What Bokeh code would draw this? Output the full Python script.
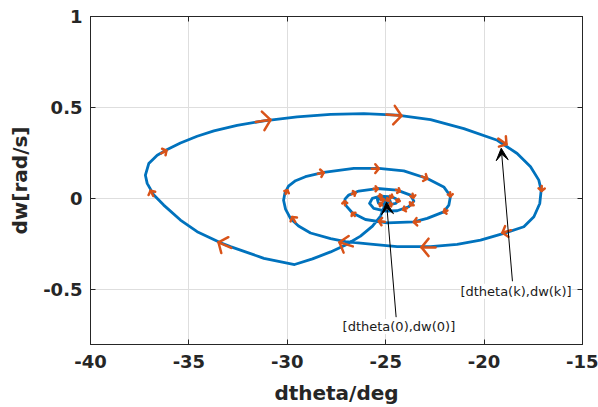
import numpy as np
from bokeh.plotting import figure
from bokeh.core.properties import value
from bokeh.models import (Range1d, FixedTicker, LinearAxis, Arrow, VeeHead,
                          LabelSet, ColumnDataSource)
from bokeh.embed import file_html
from bokeh.resources import INLINE

# ---- phase trajectory (dtheta in deg, dw in rad/s) ----
traj_theta = [
    -24.95, -25.26, -25.67, -26.28, -27.04, -27.80, -28.72, -29.63,
    -31.19, -32.89, -33.39, -34.58, -35.43, -36.28, -36.78, -37.12, -37.21,
    -37.04, -36.61, -36.10, -35.43, -34.58, -33.73, -32.55, -31.19, -29.50,
    -27.80, -26.11, -24.42, -22.72, -21.03, -19.33, -18.32, -17.64, -17.22,
    -17.10, -17.17, -17.47, -17.98, -19.00, -20.18, -21.37, -22.72, -24.42,
    -25.77, -27.04, -27.80, -28.82, -29.43, -29.84, -30.09, -30.19, -30.12,
    -29.94, -29.58, -29.08, -28.15, -26.62, -25.35, -24.08, -22.89, -22.05,
    -21.71, -21.79, -22.05, -22.89, -23.57, -24.92, -26.03, -26.70, -27.04,
    -27.07, -26.88, -26.37, -25.43, -24.42, -23.74, -23.57, -23.83, -24.42,
    -25.01, -25.61, -25.82, -25.68, -25.26, -24.67, -24.33, -24.50, -24.92,
    -25.37, -25.42, -25.16, -24.81, -24.76, -24.96, -25.11, -25.01, -24.95,
]
traj_w = [
    -0.010, -0.095, -0.150, -0.205, -0.254, -0.292, -0.330, -0.361,
    -0.327, -0.263, -0.242, -0.181, -0.117, -0.035, 0.020, 0.084, 0.129,
    0.193, 0.239, 0.270, 0.306, 0.343, 0.372, 0.403, 0.427, 0.449,
    0.463, 0.467, 0.459, 0.434, 0.385, 0.321, 0.248, 0.175, 0.102,
    0.047, -0.026, -0.099, -0.154, -0.190, -0.227, -0.250, -0.263, -0.263,
    -0.249, -0.235, -0.219, -0.188, -0.150, -0.108, -0.057, -0.008, 0.031,
    0.069, 0.099, 0.121, 0.144, 0.166, 0.166, 0.153, 0.111, 0.065,
    0.014, -0.035, -0.072, -0.108, -0.127, -0.132, -0.114, -0.077, -0.035,
    -0.002, 0.020, 0.042, 0.056, 0.047, 0.020, -0.013, -0.044, -0.066,
    -0.068, -0.053, -0.026, 0.002, 0.014, 0.010, -0.008, -0.026, -0.035,
    -0.024, -0.005, 0.003, -0.002, -0.019, -0.021, -0.013, -0.008, -0.010,
]

# ---- direction arrows along the trajectory ----
quiv_theta = [-36.14, -36.95, -30.85, -24.20, -18.86, -17.08, -19.07, -23.18,
              -27.35, -33.50, -29.75, -29.99, -28.15, -25.35, -22.89, -21.71,
              -22.05, -23.57, -25.35, -26.70, -27.09, -26.53, -25.41, -24.28,
              -23.60, -23.74, -24.11, -25.21, -24.65, -24.40, -24.81, -25.31,
              -25.10, -24.85]
quiv_w = [0.264, 0.044, 0.433, 0.455, 0.299, 0.043, -0.187, -0.267,
          -0.239, -0.239, -0.100, 0.046, 0.143, 0.165, 0.110, 0.013,
          -0.073, -0.128, -0.124, -0.078, -0.014, 0.033, 0.055, 0.041,
          0.006, -0.036, -0.060, 0.016, 0.010, -0.017, -0.033, -0.028,
          -0.003, -0.011]
quiv_dir = [28, 117, 8, -5, -34, -92, 197, 180,
            163, 156, 121, 63, 10, 0, -22, -85,
            202, 185, 175, 130, 95, 20, 0, -20,
            -80, -130, 200, 10, -20, -110, 190, 150,
            20, -60]
quiv_len = [6, 6, 15, 15, 10, 5, 9, 14,
            14, 14, 6, 4, 6, 7, 6, 4,
            4, 6, 6, 4, 4, 4, 4, 4,
            4, 4, 4, 3, 3, 3, 3, 3,
            3, 3]

# ---- annotations ----
ann_text = ["[dtheta(0),dw(0)]", "[dtheta(k),dw(k)]"]
ann_text_theta = [-24.33, -18.38]
ann_text_w = [-0.701, -0.508]
ann_tail_theta = [-24.47, -18.56]
ann_tail_w = [-0.650, -0.453]
ann_tip_theta = [-24.96, -19.13]
ann_tip_w = [-0.019, 0.277]

x_ticks = [-40, -35, -30, -25, -20, -15]
y_ticks = [-0.5, 0, 0.5, 1]
y_tick_labels = {-0.5: "-0.5", 0: "0", 0.5: "0.5", 1: "1"}
x_tick_labels = {t: str(t) for t in x_ticks}
x_title = "dtheta/deg"
y_title = "dw[rad/s]"

X0, X1, Y0, Y1 = -40, -15, -0.8, 1
W, H = 598, 407
BL, BR, BT, BB = 90, 16, 16, 63

BLUE = "#0072BD"
ORANGE = "#D95319"
INK = "#262626"
FONT = "DejaVu Sans"

p = figure(width=W, height=H, x_range=Range1d(X0, X1), y_range=Range1d(Y0, Y1),
           output_backend="svg", toolbar_location=None,
           min_border_left=BL, min_border_right=BR,
           min_border_top=BT, min_border_bottom=BB)
p.background_fill_color = "white"
p.border_fill_color = "white"
p.outline_line_color = INK
p.outline_line_width = 1

for ax, ticks, labels in ((p.xaxis[0], x_ticks, x_tick_labels),
                          (p.yaxis[0], y_ticks, y_tick_labels)):
    ax.ticker = FixedTicker(ticks=ticks)
    ax.major_label_overrides = labels
    ax.major_label_text_font = FONT
    ax.major_label_text_font_style = "bold"
    ax.major_label_text_font_size = "18px"
    ax.major_label_text_color = INK
    ax.axis_line_color = INK
    ax.major_tick_line_color = INK
    ax.major_tick_in = 5
    ax.major_tick_out = 0
    ax.minor_tick_line_color = None
    ax.axis_label_text_font = FONT
    ax.axis_label_text_font_style = "bold"
    ax.axis_label_text_font_size = "20px"
    ax.axis_label_text_color = INK

p.xaxis.axis_label = x_title
p.yaxis.axis_label = y_title
p.xaxis.major_label_standoff = 10
p.yaxis.major_label_standoff = 8
p.xaxis.axis_label_standoff = 10
p.yaxis.axis_label_standoff = 8

# box with inward ticks on top and right (no labels drawn)
for loc, ticks in (("above", x_ticks), ("right", y_ticks)):
    ax = LinearAxis(ticker=FixedTicker(ticks=ticks))
    ax.major_label_text_color = None
    ax.major_label_text_font_size = "1px"
    ax.major_label_standoff = 0
    ax.axis_line_color = INK
    ax.major_tick_line_color = INK
    ax.major_tick_in = 5
    ax.major_tick_out = 0
    ax.minor_tick_line_color = None
    p.add_layout(ax, loc)

p.xgrid.ticker = FixedTicker(ticks=x_ticks)
p.ygrid.ticker = FixedTicker(ticks=y_ticks)
p.grid.grid_line_color = "#dedede"
p.grid.grid_line_width = 1

# trajectory
p.line(traj_theta, traj_w, line_color=BLUE, line_width=2.8,
       line_join="round", line_cap="round")

# quiver-style arrows: shaft + open head, sized in screen pixels
sx = (W - BL - BR) / (X1 - X0)
sy = (H - BT - BB) / (Y1 - Y0)
qx = np.array(quiv_theta, float)
qy = np.array(quiv_w, float)
a = np.radians(quiv_dir)
L = np.array(quiv_len, float)
ux, uy = np.cos(a), np.sin(a)
nx, ny = -uy, ux
depth, half = 0.5 * L, 0.62 * L
shaft_x0 = qx - ux * L / sx
shaft_y0 = qy - uy * L / sy
b1x = qx + (-ux * depth + nx * half) / sx
b1y = qy + (-uy * depth + ny * half) / sy
b2x = qx + (-ux * depth - nx * half) / sx
b2y = qy + (-uy * depth - ny * half) / sy
p.segment(shaft_x0, shaft_y0, qx, qy, line_color=ORANGE, line_width=2.5,
          line_cap="round")
p.multi_line([[b1x[i], qx[i], b2x[i]] for i in range(len(qx))],
             [[b1y[i], qy[i], b2y[i]] for i in range(len(qy))],
             line_color=ORANGE, line_width=2.5, line_cap="round",
             line_join="round")

# text arrows
ann_src = ColumnDataSource(dict(x0=ann_tail_theta, y0=ann_tail_w,
                                x1=ann_tip_theta, y1=ann_tip_w))
p.add_layout(Arrow(source=ann_src, x_start="x0", y_start="y0",
                   x_end="x1", y_end="y1", line_color="black", line_width=1,
                   end=VeeHead(size=12, fill_color="black",
                               line_color="black", line_width=1)))
lab_src = ColumnDataSource(dict(x=ann_text_theta, y=ann_text_w, t=ann_text))
p.add_layout(LabelSet(source=lab_src, x="x", y="y", text="t",
                      text_align="center", text_baseline="middle",
                      text_font=value(FONT), text_font_size=value("13px"),
                      text_color="#1a1a1a",
                      background_fill_color="white"))

open("out.html", "w").write(file_html(p, INLINE))
